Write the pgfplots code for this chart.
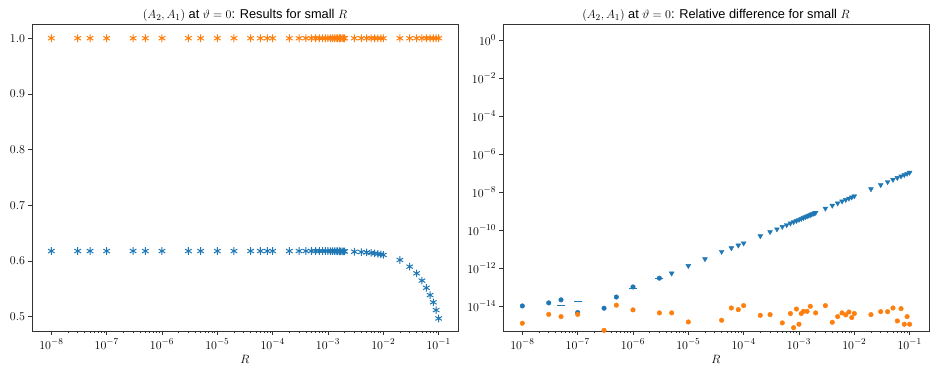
\documentclass[border=0pt]{standalone}
\usepackage{fontspec}
\setmainfont{Liberation Sans}
\usepackage{pgfplots}
\pgfplotsset{compat=1.18}

\definecolor{tabblue}{HTML}{1F77B4}
\definecolor{taborange}{HTML}{FF7F0E}

\pgfplotsset{
  every axis/.append style={
    scale only axis, width=426pt, height=307pt,
    tick pos=left, tick align=outside,
    major tick length=3.5pt, minor tick length=2pt,
    axis line style={black!80, line width=0.7pt},
    every tick/.style={black!80, line width=0.6pt},
    tick label style={font=\fontsize{12.5}{13}\selectfont},
    xticklabel style={yshift=-1pt},
    title style={font=\fontsize{12.8}{14}\selectfont, yshift=-7pt},
    xlabel style={font=\fontsize{12.5}{13}\selectfont, yshift=1pt},
  },
}

\begin{document}
\begin{tikzpicture}
\path[use as bounding box] (0,0) rectangle (938pt,376pt);

% left panel: results
\begin{axis}[at={(32pt,45pt)}, anchor=south west,
  xmode=log, xmin=4.47e-9, xmax=0.2239,
  xtick={1e-8,1e-7,1e-6,1e-5,1e-4,1e-3,1e-2,1e-1},
  xlabel={$R$},
  title={$(A_2, A_1)$ at $\vartheta=0$: Results for small $R$},
  ymin=0.4745, ymax=1.0255,
  ytick={0.5,0.6,0.7,0.8,0.9,1.0},
  yticklabel style={/pgf/number format/.cd, fixed, fixed zerofill, precision=1},
]
  % blue series
  \addplot[only marks, mark=asterisk, mark size=3.8pt, color=tabblue, line width=1pt]
    coordinates {
    (1e-8,0.618) (3e-8,0.618) (5e-8,0.618) (1e-7,0.618) (3e-7,0.618) (5e-7,0.618)
    (1e-6,0.618) (3e-6,0.618) (5e-6,0.618) (1e-5,0.618) (2e-5,0.618) (4e-5,0.618)
    (6e-5,0.618) (8e-5,0.618) (1e-4,0.618) (2e-4,0.618) (3e-4,0.618) (4e-4,0.618)
    (5e-4,0.618) (6e-4,0.618) (7e-4,0.618) (8e-4,0.618) (9e-4,0.618) (1e-3,0.618)
    (1.1e-3,0.6179) (1.2e-3,0.6179) (1.3e-3,0.6178) (1.4e-3,0.6178) (1.5e-3,0.6177)
    (1.6e-3,0.6176) (1.7e-3,0.6175) (1.8e-3,0.6175) (1.9e-3,0.6174) (2e-3,0.6173)
    (3e-3,0.6168) (4e-3,0.6162) (5e-3,0.6155) (6e-3,0.6147) (7e-3,0.6138)
    (8e-3,0.6130) (9e-3,0.6121) (1e-2,0.6110)
    (2e-2,0.602) (3e-2,0.590) (4e-2,0.578) (5e-2,0.565) (6e-2,0.552)
    (7e-2,0.539) (8e-2,0.526) (9e-2,0.512) (1e-1,0.497)
    };
  % orange series
  \addplot[only marks, mark=asterisk, mark size=3.8pt, color=taborange, line width=1pt]
    coordinates {
    (1e-8,1) (3e-8,1) (5e-8,1) (1e-7,1) (3e-7,1) (5e-7,1)
    (1e-6,1) (3e-6,1) (5e-6,1) (1e-5,1) (2e-5,1) (4e-5,1)
    (6e-5,1) (8e-5,1) (1e-4,1) (2e-4,1) (3e-4,1) (4e-4,1)
    (5e-4,1) (6e-4,1) (7e-4,1) (8e-4,1) (9e-4,1) (1e-3,1)
    (1.1e-3,1) (1.2e-3,1) (1.3e-3,1) (1.4e-3,1) (1.5e-3,1)
    (1.6e-3,1) (1.7e-3,1) (1.8e-3,1) (1.9e-3,1) (2e-3,1)
    (3e-3,1) (4e-3,1) (5e-3,1) (6e-3,1) (7e-3,1)
    (8e-3,1) (9e-3,1) (1e-2,1)
    (2e-2,1) (3e-2,1) (4e-2,1) (5e-2,1) (6e-2,1)
    (7e-2,1) (8e-2,1) (9e-2,1) (1e-1,1)
    };
\end{axis}

% right panel: relative difference
\begin{axis}[at={(503pt,45pt)}, anchor=south west,
  xmode=log, xmin=4.47e-9, xmax=0.2239,
  xtick={1e-8,1e-7,1e-6,1e-5,1e-4,1e-3,1e-2,1e-1},
  xlabel={$R$},
  title={$(A_2, A_1)$ at $\vartheta=0$: Relative difference for small $R$},
  ymode=log, ymin=4.8e-16, ymax=6.9,
  ytick={1,1e-2,1e-4,1e-6,1e-8,1e-10,1e-12,1e-14},
  yminorticks=false,
]
  % blue, low region
  \addplot[only marks, mark=*, mark size=2.3pt, color=tabblue]
    coordinates {
    (1e-8,1.0e-14) (3e-8,1.45e-14) (5e-8,2.1e-14) (1e-7,4.5e-15)
    (3e-7,7.6e-15) (5e-7,2.95e-14) (1e-6,1.0e-13) (3e-6,2.9e-13)
    };
  % blue, stray error caps
  \addplot[only marks, mark=-, mark size=4pt, color=tabblue, line width=1pt,
    mark options={draw=tabblue}]
    coordinates {(5e-8,1.0e-14) (1e-7,1.8e-14) (1e-6,8.0e-14) (3e-6,2.9e-13)};
  % blue, along the line
  \addplot[only marks, mark=triangle*, mark size=2.8pt, color=tabblue,
    every mark/.append style={rotate=180}]
    coordinates {
    (5e-6,5.2e-13) (1e-5,1.29e-12) (2e-5,2.95e-12) (4e-5,7.2e-12)
    (6e-5,1.12e-11) (8e-5,1.55e-11) (1e-4,2.0e-11) (2e-4,4.8e-11)
    (3e-4,7.9e-11) (4e-4,1.10e-10) (5e-4,1.48e-10) (6e-4,1.84e-10)
    (7e-4,2.23e-10) (8e-4,2.63e-10) (9e-4,3.04e-10) (1e-3,3.47e-10)
    (1.1e-3,3.90e-10) (1.2e-3,4.35e-10) (1.3e-3,4.80e-10) (1.4e-3,5.26e-10)
    (1.5e-3,5.73e-10) (1.6e-3,6.21e-10) (1.7e-3,6.68e-10) (1.8e-3,7.18e-10)
    (1.9e-3,7.69e-10) (2e-3,8.18e-10) (3e-3,1.35e-9) (4e-3,1.93e-9)
    (5e-3,2.55e-9) (6e-3,3.20e-9) (7e-3,3.87e-9) (8e-3,4.57e-9)
    (9e-3,5.28e-9) (1e-2,6.03e-9) (2e-2,1.42e-8) (3e-2,2.35e-8)
    (4e-2,3.36e-8) (5e-2,4.44e-8) (6e-2,5.56e-8) (7e-2,6.73e-8)
    (8e-2,7.94e-8) (9e-2,9.18e-8) (1e-1,1.05e-7)
    };
  % orange
  \addplot[only marks, mark=*, mark size=2.3pt, color=taborange]
    coordinates {
    (1e-8,1.23e-15) (3e-8,3.6e-15) (5e-8,2.75e-15) (1e-7,3.6e-15)
    (3e-7,5.2e-16) (5e-7,1.1e-14) (1e-6,6.2e-15) (3e-6,4.3e-15)
    (5e-6,4.3e-15) (1e-5,1.44e-15) (4e-5,1.77e-15) (6e-5,7.8e-15)
    (8e-5,6.4e-15) (1e-4,1.04e-14) (2e-4,3.2e-15) (3e-4,3.5e-15)
    (5e-4,1.28e-15) (6e-4,4.7e-16) (7e-4,4.0e-15) (8e-4,7.2e-16)
    (9e-4,6.9e-15) (1e-3,1.09e-15) (1.1e-3,4.0e-15) (1.2e-3,5.2e-15)
    (1.4e-3,5.2e-15) (1.6e-3,9.6e-15) (2e-3,4.3e-15) (3e-3,1.04e-14)
    (4e-3,1.38e-15) (5e-3,2.75e-15) (6e-3,4.3e-15) (7e-3,3.4e-15)
    (8e-3,4.8e-15) (9e-3,2.45e-15) (1e-2,4.0e-15) (2e-2,3.5e-15)
    (3e-2,5.0e-15) (4e-2,5.0e-15) (5e-2,7.8e-15) (6e-2,1.62e-15)
    (7e-2,7.2e-15) (8e-2,1.09e-15) (9e-2,2.75e-15) (1e-1,1.09e-15)
    };
\end{axis}
\end{tikzpicture}
\end{document}
